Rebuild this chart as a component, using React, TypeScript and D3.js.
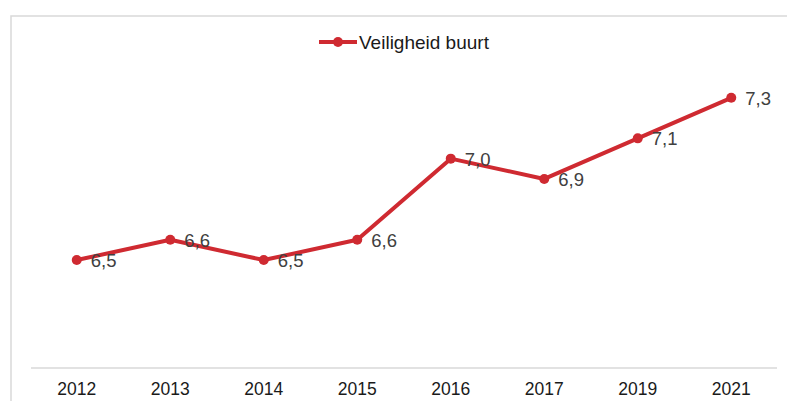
import React from "react";
import * as d3 from "d3";

const categories = ["2012", "2013", "2014", "2015", "2016", "2017", "2019", "2021"];
const values = [6.5, 6.6, 6.5, 6.6, 7.0, 6.9, 7.1, 7.3];
const labels = ["6,5", "6,6", "6,5", "6,6", "7,0", "6,9", "7,1", "7,3"];
const seriesName = "Veiligheid buurt";

const W = 787;
const H = 401;
const RED = "#cf2a31";
const FONT = "Arial, 'Liberation Sans', sans-serif";

export default function App() {
  const x = d3.scaleBand<string>().domain(categories).range([30, 778]);
  const y = d3.scaleLinear().domain([6.0, 7.3]).range([361.5, 97.8]);
  const cx = (c: string) => (x(c) as number) + x.bandwidth() / 2;
  const line = d3
    .line<number>()
    .x((_, i) => cx(categories[i]))
    .y((v) => y(v));

  return (
    <svg
      width={W}
      height={H}
      style={{ position: "absolute", left: 0, top: 0, background: "#fff" }}
    >
      <rect x={11} y={16} width={W} height={H} fill="#fff" stroke="#d9d9d9" strokeWidth={1.5} />
      {/* legend */}
      <g>
        <line x1={319} x2={357} y1={42} y2={42} stroke={RED} strokeWidth={4} />
        <circle cx={338} cy={42} r={5} fill={RED} />
        <text x={359} y={49} fontFamily={FONT} fontSize={19} fill="#1a1a1a">
          {seriesName}
        </text>
      </g>
      {/* axis */}
      <line x1={31} x2={777} y1={368} y2={368} stroke="#d9d9d9" strokeWidth={1.5} />
      {categories.map((c) => (
        <text
          key={c}
          x={cx(c)}
          y={395}
          textAnchor="middle"
          fontFamily={FONT}
          fontSize={17.5}
          fill="#1a1a1a"
        >
          {c}
        </text>
      ))}
      <path d={line(values) || ""} fill="none" stroke={RED} strokeWidth={4} strokeLinejoin="round" />
      {values.map((v, i) => (
        <circle key={i} cx={cx(categories[i])} cy={y(v)} r={5} fill={RED} />
      ))}
      {values.map((v, i) => (
        <text
          key={"l" + i}
          x={cx(categories[i]) + 14}
          y={y(v) + 7}
          fontFamily={FONT}
          fontSize={18.5}
          fill="#404040"
        >
          {labels[i]}
        </text>
      ))}
    </svg>
  );
}
